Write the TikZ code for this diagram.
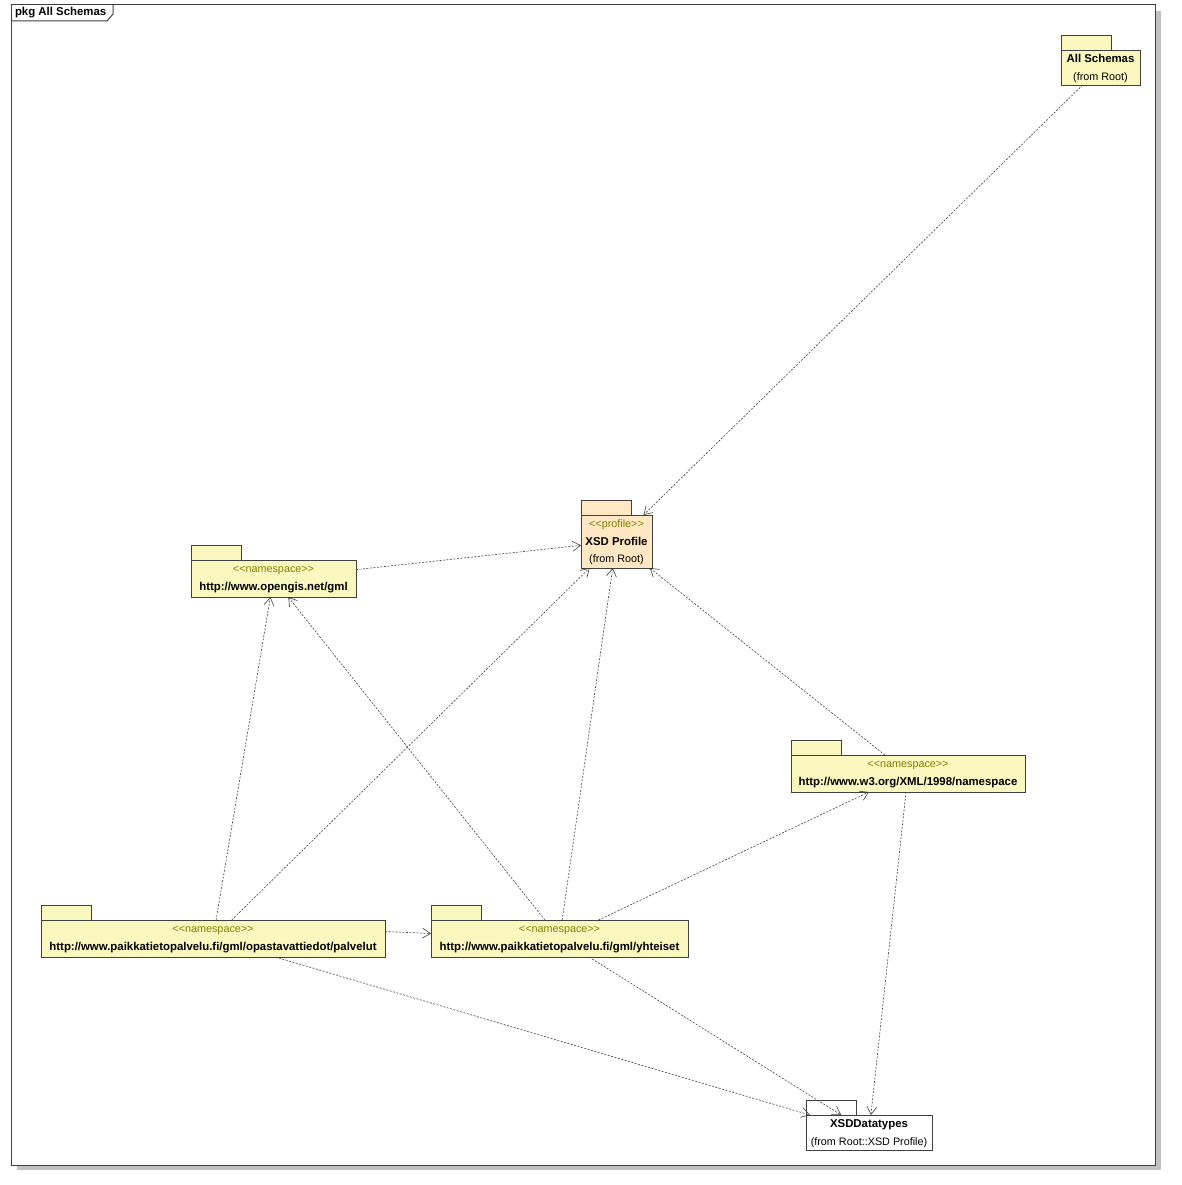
\documentclass[tikz,border=0pt]{standalone}
\usepackage{fontspec}
\setmainfont{Liberation Sans}[Ligatures=NoCommon]
\usetikzlibrary{arrows.meta}

\definecolor{pkgyellow}{RGB}{250,248,190}
\definecolor{pkgpeach}{RGB}{255,231,196}
\definecolor{stereo}{RGB}{128,128,0}
\definecolor{edge}{RGB}{64,64,64}
\definecolor{shadow}{RGB}{192,192,192}

\newcommand{\st}[1]{{\color{stereo}<\kern0pt<#1>\kern0pt>}}
\newcommand{\pname}[1]{{\fontsize{11.4}{17.5}\selectfont\bfseries #1}}

\begin{document}
\begin{tikzpicture}[x=1pt, y=-1pt,
  >={Straight Barb[length=8pt,width=10pt]}, %
  inner sep=0pt, outer sep=0pt,%
  frame/.style={draw=edge,line width=1pt},
  package/.style={draw=edge,fill=#1,line width=0.8pt,anchor=north west,
    align=center,text depth=-1.5pt,font=\fontsize{10.8}{17.5}\selectfont},
  tab/.style={draw=edge,fill=#1,line width=0.8pt},
  dep/.style={draw=edge,line width=0.6pt,dash pattern=on 2pt off 1.5pt,->}]

\useasboundingbox (0,0) rectangle (1181,1185);

% frame
\fill[shadow] (17,11) rectangle (1161,1170);
\draw[frame,fill=white] (11,5) rectangle (1155,1165);
\node[anchor=west,font=\fontsize{11.4}{14}\selectfont\bfseries] (title) at (15,13) {pkg All Schemas};
\draw[frame] (11,21) -- (107,21) -- (113,14) -- (113,5);

% packages
\node[package=pkgyellow,minimum width=79,minimum height=35] (all) at (1061,50)
  {\pname{All Schemas}\\(from Root)};
\node[package=pkgpeach,minimum width=71,minimum height=53] (xsd) at (581,515)
  {\st{profile}\\\pname{XSD Profile}\\(from Root)};
\node[package=pkgyellow,minimum width=165,minimum height=37] (gml) at (191,560)
  {\st{namespace}\\\pname{http://www.opengis.net/gml}};
\node[package=pkgyellow,minimum width=234,minimum height=37] (w3) at (791,755)
  {\st{namespace}\\\pname{http://www.w3.org/XML/1998/namespace}};
\node[package=pkgyellow,minimum width=344,minimum height=37] (pal) at (41,920)
  {\st{namespace}\\\pname{http://www.paikkatietopalvelu.fi/gml/opastavattiedot/palvelut}};
\node[package=pkgyellow,minimum width=257,minimum height=37] (yht) at (431,920)
  {\st{namespace}\\\pname{http://www.paikkatietopalvelu.fi/gml/yhteiset}};
\node[package=white,minimum width=126,minimum height=35] (types) at (806,1115)
  {\pname{XSDDatatypes}\\(from Root::XSD Profile)};

\draw[tab=pkgyellow] (all.north west) rectangle ++(50,-15);
\draw[tab=pkgpeach] (xsd.north west) rectangle ++(50,-15);
\draw[tab=pkgyellow] (gml.north west) rectangle ++(50,-15);
\draw[tab=pkgyellow] (w3.north west) rectangle ++(50,-15);
\draw[tab=pkgyellow] (pal.north west) rectangle ++(50,-15);
\draw[tab=pkgyellow] (yht.north west) rectangle ++(50,-15);
\draw[tab=white] (types.north west) rectangle ++(50,-15);

% dependencies
\draw[dep] (all) -- (xsd);
\draw[dep] (gml) -- (xsd);
\draw[dep] (pal) -- (gml);
\draw[dep] (pal) -- (xsd);
\draw[dep] ([yshift=7pt]pal.east) -- ([yshift=5pt]yht.west);
\draw[dep] (pal) -- (types);
\draw[dep] (yht) -- (gml);
\draw[dep] (yht) -- (xsd);
\draw[dep] (yht) -- (w3);
\draw[dep] (yht) -- (types);
\draw[dep] (w3) -- (xsd);
\draw[dep] (w3) -- (types);

\end{tikzpicture}
\end{document}
